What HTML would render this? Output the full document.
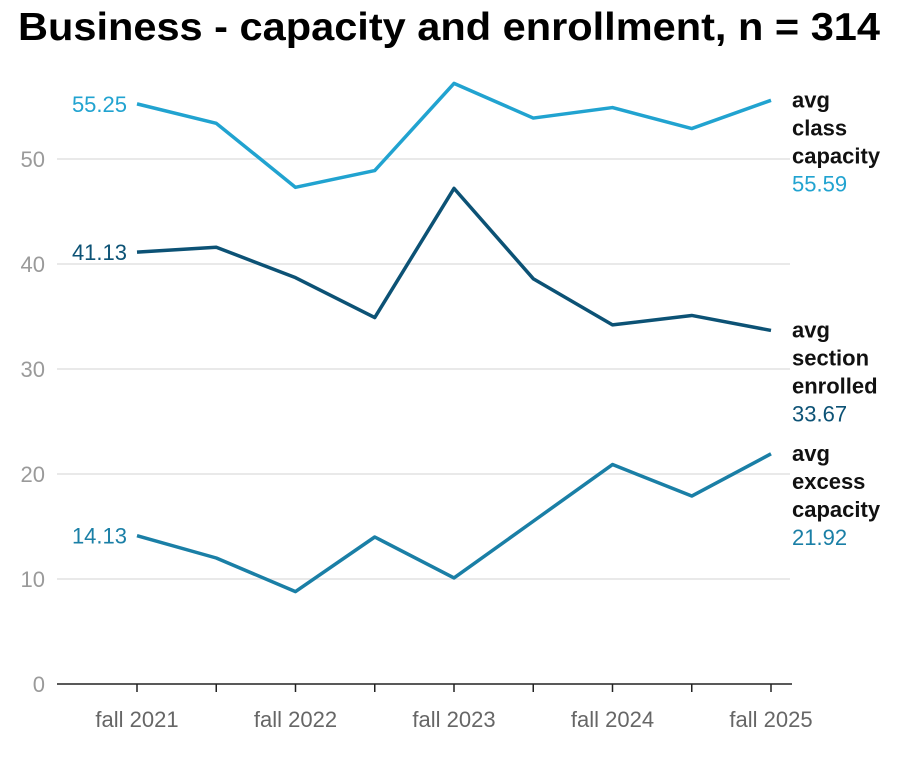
<!DOCTYPE html>
<html><head><meta charset="utf-8"><style>
body{margin:0;background:#fff;}
svg{display:block;font-family:"Liberation Sans",sans-serif;}
</style></head><body>
<svg id="chart" width="902" height="764">
<text x="18" y="40" font-size="39" font-weight="bold" fill="#000" textLength="862" lengthAdjust="spacingAndGlyphs">Business - capacity and enrollment, n = 314</text>
<g id="grid"></g><g id="lines"></g><g id="labels"></g>
</svg>
<script>
const categories = ["fall 2021","","fall 2022","","fall 2023","","fall 2024","","fall 2025"];
const classCapacity = [55.25,53.4,47.3,48.9,57.2,53.9,54.9,52.9,55.59];
const sectionEnrolled = [41.13,41.6,38.7,34.9,47.2,38.6,34.2,35.1,33.67];
const excessCapacity = [14.13,12.0,8.8,14.0,10.1,15.5,20.9,17.9,21.92];
const yTicks = [0,10,20,30,40,50];
const NS="http://www.w3.org/2000/svg";
const x = i => 137 + i*(771-137)/8;
const y = v => 684 - v*10.5;
function mk(tag, attrs, parent){const e=document.createElementNS(NS,tag);for(const k in attrs)e.setAttribute(k,attrs[k]);parent.appendChild(e);return e;}
const grid=document.getElementById('grid'), lines=document.getElementById('lines'), labels=document.getElementById('labels');
yTicks.forEach(t=>{
  if(t>0){const g=mk('line',{x1:57,x2:790,y1:y(t),y2:y(t),stroke:'#e2e2e2','stroke-width':1.5},grid);
  
  }
  const tx=mk('text',{x:45,y:y(t)+8,'text-anchor':'end','font-size':22,fill:'#9a9a9a'},grid);
  tx.textContent=t;
  
  
});
const ax=mk('line',{x1:57,x2:792,y1:684,y2:684,stroke:'#222','stroke-width':1.5},grid);


categories.forEach((c,i)=>{
  const tk=mk('line',{x1:x(i),x2:x(i),y1:684,y2:692,stroke:'#222','stroke-width':1.5},grid);
  
  
  if(c){const t=mk('text',{x:x(i),y:727,'text-anchor':'middle','font-size':22,fill:'#666'},grid);
  t.textContent=c;
  
  }
});
const series=[
 {d:classCapacity,c:'#21a3d0',name:['avg','class','capacity'],lbl:'class-capacity'},
 {d:sectionEnrolled,c:'#0c5275',name:['avg','section','enrolled'],lbl:'section-enrolled'},
 {d:excessCapacity,c:'#1a7fa6',name:['avg','excess','capacity'],lbl:'excess-capacity'}];
series.forEach(s=>{
  const p=mk('polyline',{points:s.d.map((v,i)=>x(i)+','+y(v)).join(' '),fill:'none',stroke:s.c,'stroke-width':3.5,'stroke-linejoin':'round'},lines);
  
  
  const f=mk('text',{x:127,y:y(s.d[0])+8,'text-anchor':'end','font-size':22,fill:s.c},labels);
  f.textContent=s.d[0].toFixed(2);
  
  
  const last=s.d[s.d.length-1];
  const top=y(last)+7;
  s.name.forEach((n,k)=>{
    const t=mk('text',{x:792,y:top+k*28,'font-size':22,'font-weight':'bold',fill:'#111'},labels);
    t.textContent=n;
    
    
  });
  const v=mk('text',{x:792,y:top+84,'font-size':22,fill:s.c},labels);
  v.textContent=last.toFixed(2);
  
  
});
</script>
</body></html>
